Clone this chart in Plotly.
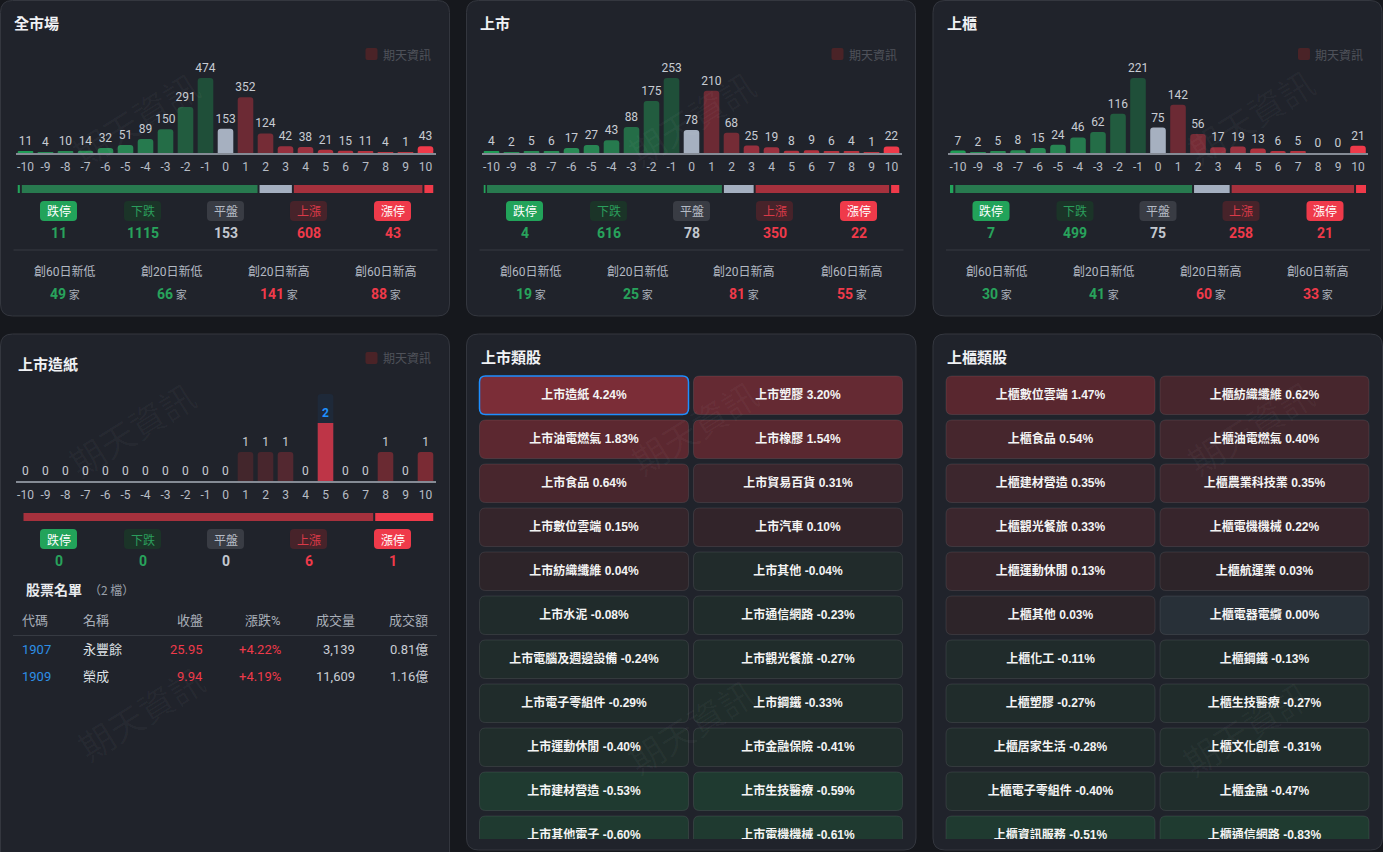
import plotly.graph_objects as go
import numpy as np

W, H = 1383, 852

# ---------------- data ----------------
bins = list(range(-10, 11))
bin_labels = [str(b) for b in bins]

all_counts = [11, 4, 10, 14, 32, 51, 89, 150, 291, 474, 153, 352, 124, 42, 38, 21, 15, 11, 4, 1, 43]
twse_counts = [4, 2, 5, 6, 17, 27, 43, 88, 175, 253, 78, 210, 68, 25, 19, 8, 9, 6, 4, 1, 22]
otc_counts = [7, 2, 5, 8, 15, 24, 46, 62, 116, 221, 75, 142, 56, 17, 19, 13, 6, 5, 0, 0, 21]
paper_counts = [0, 0, 0, 0, 0, 0, 0, 0, 0, 0, 0, 1, 1, 1, 0, 2, 0, 0, 1, 0, 1]
paper_highlight_bin = 5

summary_labels = ['跌停', '下跌', '平盤', '上漲', '漲停']
all_summary = [11, 1115, 153, 608, 43]
twse_summary = [4, 616, 78, 350, 22]
otc_summary = [7, 499, 75, 258, 21]
paper_summary = [0, 0, 0, 6, 1]

record_labels = ['創60日新低', '創20日新低', '創20日新高', '創60日新高']
all_records = [49, 66, 141, 88]
twse_records = [19, 25, 81, 55]
otc_records = [30, 41, 60, 33]

stock_headers = ['代碼', '名稱', '收盤', '漲跌%', '成交量', '成交額']
stock_codes = ['1907', '1909']
stock_names = ['永豐餘', '榮成']
stock_close = [25.95, 9.94]
stock_pct = [4.22, 4.19]
stock_volume = [3139, 11609]
stock_amount = [0.81, 1.16]

twse_sectors = ['上市造紙', '上市塑膠', '上市油電燃氣', '上市橡膠', '上市食品', '上市貿易百貨',
                '上市數位雲端', '上市汽車', '上市紡織纖維', '上市其他', '上市水泥', '上市通信網路',
                '上市電腦及週邊設備', '上市觀光餐旅', '上市電子零組件', '上市鋼鐵', '上市運動休閒',
                '上市金融保險', '上市建材營造', '上市生技醫療', '上市其他電子', '上市電機機械']
twse_sector_pct = [4.24, 3.20, 1.83, 1.54, 0.64, 0.31, 0.15, 0.10, 0.04, -0.04, -0.08, -0.23,
                   -0.24, -0.27, -0.29, -0.33, -0.40, -0.41, -0.53, -0.59, -0.60, -0.61]
otc_sectors = ['上櫃數位雲端', '上櫃紡織纖維', '上櫃食品', '上櫃油電燃氣', '上櫃建材營造', '上櫃農業科技業',
               '上櫃觀光餐旅', '上櫃電機機械', '上櫃運動休閒', '上櫃航運業', '上櫃其他', '上櫃電器電纜',
               '上櫃化工', '上櫃鋼鐵', '上櫃塑膠', '上櫃生技醫療', '上櫃居家生活', '上櫃文化創意',
               '上櫃電子零組件', '上櫃金融', '上櫃資訊服務', '上櫃通信網路']
otc_sector_pct = [1.47, 0.62, 0.54, 0.40, 0.35, 0.35, 0.33, 0.22, 0.13, 0.03, 0.03, 0.00,
                  -0.11, -0.13, -0.27, -0.27, -0.28, -0.31, -0.40, -0.47, -0.51, -0.83]
selected_sector = '上市造紙'

# ---------------- style ----------------
PAGE_BG = '#16181d'
PANEL_BG = '#20232b'
PANEL_BORDER = '#34373f'
TXT = '#f0f2f5'
SUB = '#b3b9c3'
GREEN = '#28a35c'
RED = '#ef3a4a'
FLAT = '#c3c8d0'
AXIS = '#858b95'
FONT = "Roboto, 'Noto Sans CJK TC', sans-serif"
CJK = "'Noto Sans CJK TC', Roboto, sans-serif"
TILE_FONT = "'Liberation Sans', 'Noto Sans CJK TC', sans-serif"

BAR_COLORS = ['#1f9d56', '#238a52', '#288a54', '#298c55', '#2a8b56', '#288553', '#267a4e', '#246d47',
              '#225c3f', '#1f4f39', '#a6b0c0', '#6c2a34', '#752c36', '#96303e', '#9c3240', '#b0333f',
              '#b3333f', '#b5343f', '#b7343f', '#b8343f', '#ef3a4a']
PAPER_BAR_COLORS = BAR_COLORS[:11] + ['#43262c', '#48262d', '#532830', '#5a2830', '#be3547',
                                      '#6a2a32', '#6a2a32', '#6a2a32', '#6a2a32', '#7a2b34']
PROG_COLORS = ['#23a45b', '#287a4f', '#a4afc0', '#a6313d', '#ef3a4a']
BADGE_FILL = ['#22a35a', '#1b3428', '#393c44', '#47232a', '#ef3a4a']
BADGE_TXT = ['#ffffff', '#2b9e5c', '#b5bbc5', '#d93a48', '#ffffff']
NUM_COLORS = [GREEN, GREEN, FLAT, RED, RED]
REC_COLORS = [GREEN, GREEN, RED, RED]

fig = go.Figure()
shapes, annotations, layout_axes = [], [], {}
naxes = [0]


def X(x):
    return x / W


def Y(y):
    return 1 - y / H


def rr_path(x0, y0, x1, y1, r, conv=True):
    if conv:
        f = lambda x, y: f"{X(x):.6f},{Y(y):.6f}"
    else:
        f = lambda x, y: f"{x:.3f},{y:.3f}"
    return (f"M {f(x0 + r, y0)} L {f(x1 - r, y0)} Q {f(x1, y0)} {f(x1, y0 + r)} "
            f"L {f(x1, y1 - r)} Q {f(x1, y1)} {f(x1 - r, y1)} L {f(x0 + r, y1)} "
            f"Q {f(x0, y1)} {f(x0, y1 - r)} L {f(x0, y0 + r)} Q {f(x0, y0)} {f(x0 + r, y0)} Z")


def add_text(x, y, text, size=12, color=TXT, xanchor='center', weight='normal', family=FONT, angle=0):
    annotations.append(dict(x=X(x), y=Y(y), xref='paper', yref='paper', text=text, showarrow=False,
                            xanchor=xanchor, yanchor='middle', textangle=angle, borderpad=0,
                            font=dict(size=size, color=color, family=family, weight=weight)))


def new_axes(xdom, ydom, xkw, ykw):
    naxes[0] += 1
    n = naxes[0]
    s = '' if n == 1 else str(n)
    layout_axes['xaxis' + s] = dict(domain=xdom, anchor='y' + s, fixedrange=True, **xkw)
    layout_axes['yaxis' + s] = dict(domain=ydom, anchor='x' + s, fixedrange=True, **ykw)
    return 'x' + s, 'y' + s


def panel(x0, y0, x1, y1):
    shapes.append(dict(type='path', xref='paper', yref='paper', path=rr_path(x0, y0, x1, y1, 12),
                       fillcolor=PANEL_BG, line=dict(color=PANEL_BORDER, width=1), layer='below'))


def hline(x0, x1, y, color='#363a42'):
    shapes.append(dict(type='line', xref='paper', yref='paper', x0=X(x0), x1=X(x1), y0=Y(y), y1=Y(y),
                       line=dict(color=color, width=1), layer='below'))


def brand(pl, y):
    shapes.append(dict(type='path', xref='paper', yref='paper', path=rr_path(pl + 365, y - 6, pl + 377, y + 6, 2),
                       fillcolor='#4a2327', line=dict(width=0), layer='below'))
    add_text(pl + 381, y, '期天資訊', size=12, color='#4f525a', xanchor='left', family=CJK)


NOLINE = dict(width=0)


def bar_chart(pl, counts, colors, base_y, top_y, ymax, highlight=None):
    xa, ya = new_axes([X(pl + 15), X(pl + 435)], [Y(base_y), Y(top_y)],
                      dict(range=[-10.5, 10.5], tickmode='array', tickvals=bins, ticktext=bin_labels,
                           showline=True, linecolor=AXIS, linewidth=2, showgrid=False, zeroline=False,
                           ticks='', ticklabelstandoff=2,
                           tickfont=dict(size=12, color='#b7bdc6', family=FONT)),
                      dict(range=[0, ymax], visible=False, showgrid=False))
    text = [str(c) for c in counts]
    tcol = ['#c8ccd3'] * len(counts)
    if highlight is not None:
        hi = bins.index(highlight)
        fig.add_trace(go.Bar(x=bins, y=[ymax if b == highlight else 0 for b in bins], width=0.78,
                             marker=dict(color='#1e2939', cornerradius=3, line=NOLINE), xaxis=xa, yaxis=ya,
                             hoverinfo='skip', showlegend=False))
        text[hi] = f"<b>{counts[hi]}</b>"
        tcol[hi] = '#1e90ff'
    fig.add_trace(go.Bar(x=bins, y=counts, width=0.78,
                         marker=dict(color=colors, cornerradius=3, line=NOLINE),
                         text=text, textposition='outside', textangle=0, constraintext='none',
                         textfont=dict(size=12, color=tcol, family=FONT), cliponaxis=False,
                         xaxis=xa, yaxis=ya, hoverinfo='skip', showlegend=False))


def progress(pl, y0, y1, summary):
    total = sum(summary)
    span, gap_px = 416, 2
    unit = (span - 4 * gap_px) / total
    gap = gap_px / unit
    bases, acc = [], 0
    for v in summary:
        bases.append(acc)
        acc += v + gap
    xa, ya = new_axes([X(pl + 17), X(pl + 17 + span)], [Y(y1), Y(y0)],
                      dict(range=[0, total + 4 * gap], visible=False),
                      dict(range=[-0.5, 0.5], visible=False))
    fig.add_trace(go.Bar(x=summary, base=bases, y=[0] * 5, orientation='h', width=1,
                         marker=dict(color=PROG_COLORS, cornerradius=0, line=NOLINE), xaxis=xa, yaxis=ya,
                         hoverinfo='skip', showlegend=False))


def badges(pl, yb, yn, summary):
    cxs = [58, 142, 225, 308, 392]
    for i, (lab, v) in enumerate(zip(summary_labels, summary)):
        cx = pl + cxs[i]
        shapes.append(dict(type='path', xref='paper', yref='paper',
                           path=rr_path(cx - 18.5, yb - 10, cx + 18.5, yb + 10, 4),
                           fillcolor=BADGE_FILL[i], line=dict(width=0), layer='below'))
        add_text(cx, yb, lab, size=12, color=BADGE_TXT[i], family=CJK)
        add_text(cx, yn, f"<b>{v}</b>", size=14, color=NUM_COLORS[i])


def records(pl, values):
    cxs = [64, 171, 278, 385]
    for i, (lab, v) in enumerate(zip(record_labels, values)):
        add_text(pl + cxs[i], 272, lab, size=12, color=SUB)
        add_text(pl + cxs[i], 294,
                 f"<b>{v}</b><span style='font-size:11px;color:#a9afb9'> 家</span>",
                 size=14, color=REC_COLORS[i])


# ---------------- panels ----------------
TOP = [0.5, 466.5, 933]
for pl in TOP:
    panel(pl, 0.5, pl + 449, 316)
panel(0.5, 334, 449.5, 880)
panel(466.5, 334, 916, 850)
panel(933, 334, 1382.5, 850)

# big faint watermarks
for (wx, wy) in [(135, 118), (691, 117), (1250, 115), (131, 428), (140, 712),
                 (694, 427), (690, 725), (1250, 427), (1245, 727)]:
    add_text(wx, wy, '期天資訊', size=35, color='rgba(255,255,255,0.035)', family=CJK, angle=-32)

# market panels
for pl, title, counts, summ, recs in [(TOP[0], '全市場', all_counts, all_summary, all_records),
                                       (TOP[1], '上市', twse_counts, twse_summary, twse_records),
                                       (TOP[2], '上櫃', otc_counts, otc_summary, otc_records)]:
    add_text(pl + 12.5, 22, f"<b>{title}</b>", size=15, color=TXT, xanchor='left', family=CJK)
    brand(pl, 54)
    bar_chart(pl, counts, BAR_COLORS, 153, 63, max(counts) * 1.2)
    progress(pl, 185, 193, summ)
    badges(pl, 211, 233, summ)
    hline(pl + 13, pl + 437, 250)
    records(pl, recs)

# sector detail panel
pl = 0.5
add_text(pl + 16.5, 364, "<b>上市造紙</b>", size=15, color=TXT, xanchor='left', family=CJK)
brand(pl, 358)
bar_chart(pl, paper_counts, PAPER_BAR_COLORS, 481, 394, max(paper_counts) + 1, highlight=paper_highlight_bin)
progress(pl, 513, 521, paper_summary)
badges(pl, 539, 561, paper_summary)

add_text(25, 589, "<b>股票名單</b>", size=14, color='#e8eaee', xanchor='left', family=CJK)
add_text(88, 589, f"（{len(stock_codes)} 檔）", size=12, color='#9aa0aa', xanchor='left', family=CJK)
col_x = [21, 82, 204, 282, 356, 429]
col_anchor = ['left', 'left', 'right', 'right', 'right', 'right']
for h, cx, an in zip(stock_headers, col_x, col_anchor):
    add_text(cx, 620, h, size=13, color='#a9afb9', xanchor=an)
hline(13, 437, 635.5)
for r in range(len(stock_codes)):
    yy = 649.5 + 27.3 * r
    vals = [stock_codes[r], stock_names[r], f"{stock_close[r]:.2f}", f"+{stock_pct[r]:.2f}%",
            f"{stock_volume[r]:,}", f"{stock_amount[r]:.2f}億"]
    cols = ['#2d8fe6', '#dfe2e7', RED, RED, '#c9cdd4', '#c9cdd4']
    for v, cx, an, c in zip(vals, col_x, col_anchor, cols):
        add_text(cx, yy, v, size=13, color=c, xanchor=an)


# ---------------- sector tiles ----------------
def sector_color(p):
    if p == 0:
        return '#283038'
    if p > 0:
        s = [0.03, 0.13, 0.31, 0.40, 0.54, 0.64, 1.50, 3.20, 4.24]
        r = [45, 53, 58, 63, 70, 72, 90, 101, 123]
        g = [36, 37, 38, 38, 38, 38, 40, 42, 45]
        b = [41, 43, 45, 45, 45, 45, 48, 51, 55]
    else:
        p = -p
        s = [0.04, 0.47, 0.51, 0.85]
        r = [33, 32, 31, 31]
        g = [43, 46, 58, 60]
        b = [43, 44, 48, 49]
    return 'rgb(%d,%d,%d)' % (np.interp(p, s, r), np.interp(p, s, g), np.interp(p, s, b))


COLS = [(13, 222), (227, 436)]
ROW0, PITCH, TILE_H = 376, 44, 38.5


def sector_grid(pl, title, names, pcts):
    add_text(pl + 13, 356, f"<b>{title}</b>", size=15, color=TXT, xanchor='left', family=CJK)
    xa, ya = new_axes([X(pl), X(pl + 449)], [Y(839), Y(370)],
                      dict(range=[pl, pl + 449], visible=False),
                      dict(range=[839, 370], visible=False))
    xs, ys, texts = [], [], []
    for i, (n, p) in enumerate(zip(names, pcts)):
        r, c = divmod(i, 2)
        x0, x1 = pl + COLS[c][0], pl + COLS[c][1]
        y0 = ROW0 + r * PITCH
        y1 = y0 + TILE_H
        sel = (n == selected_sector)
        shapes.append(dict(type='path', xref=xa, yref=ya, path=rr_path(x0, y0, x1, y1, 6, conv=False),
                           fillcolor=sector_color(p),
                           line=dict(color='#1e8fff' if sel else 'rgba(255,255,255,0.09)',
                                     width=1.5 if sel else 1),
                           layer='below'))
        xs.append((x0 + x1) / 2)
        ys.append((y0 + y1) / 2 + 1)
        texts.append(f"{n} {p:.2f}%")
    fig.add_trace(go.Scatter(x=xs, y=ys, mode='text', text=texts,
                             textfont=dict(size=12, color='#f4f4f4', family=TILE_FONT, weight='bold'),
                             xaxis=xa, yaxis=ya, hoverinfo='skip', showlegend=False, cliponaxis=True))


sector_grid(466.5, '上市類股', twse_sectors, twse_sector_pct)
sector_grid(933, '上櫃類股', otc_sectors, otc_sector_pct)

fig.update_layout(width=W, height=H, autosize=False, margin=dict(l=0, r=0, t=0, b=0, pad=0),
                  paper_bgcolor=PAGE_BG, plot_bgcolor='rgba(0,0,0,0)', barmode='overlay',
                  hovermode=False, showlegend=False, shapes=shapes, annotations=annotations,
                  font=dict(family=FONT), **layout_axes)
fig.write_html("out.html", config={'displayModeBar': False})
